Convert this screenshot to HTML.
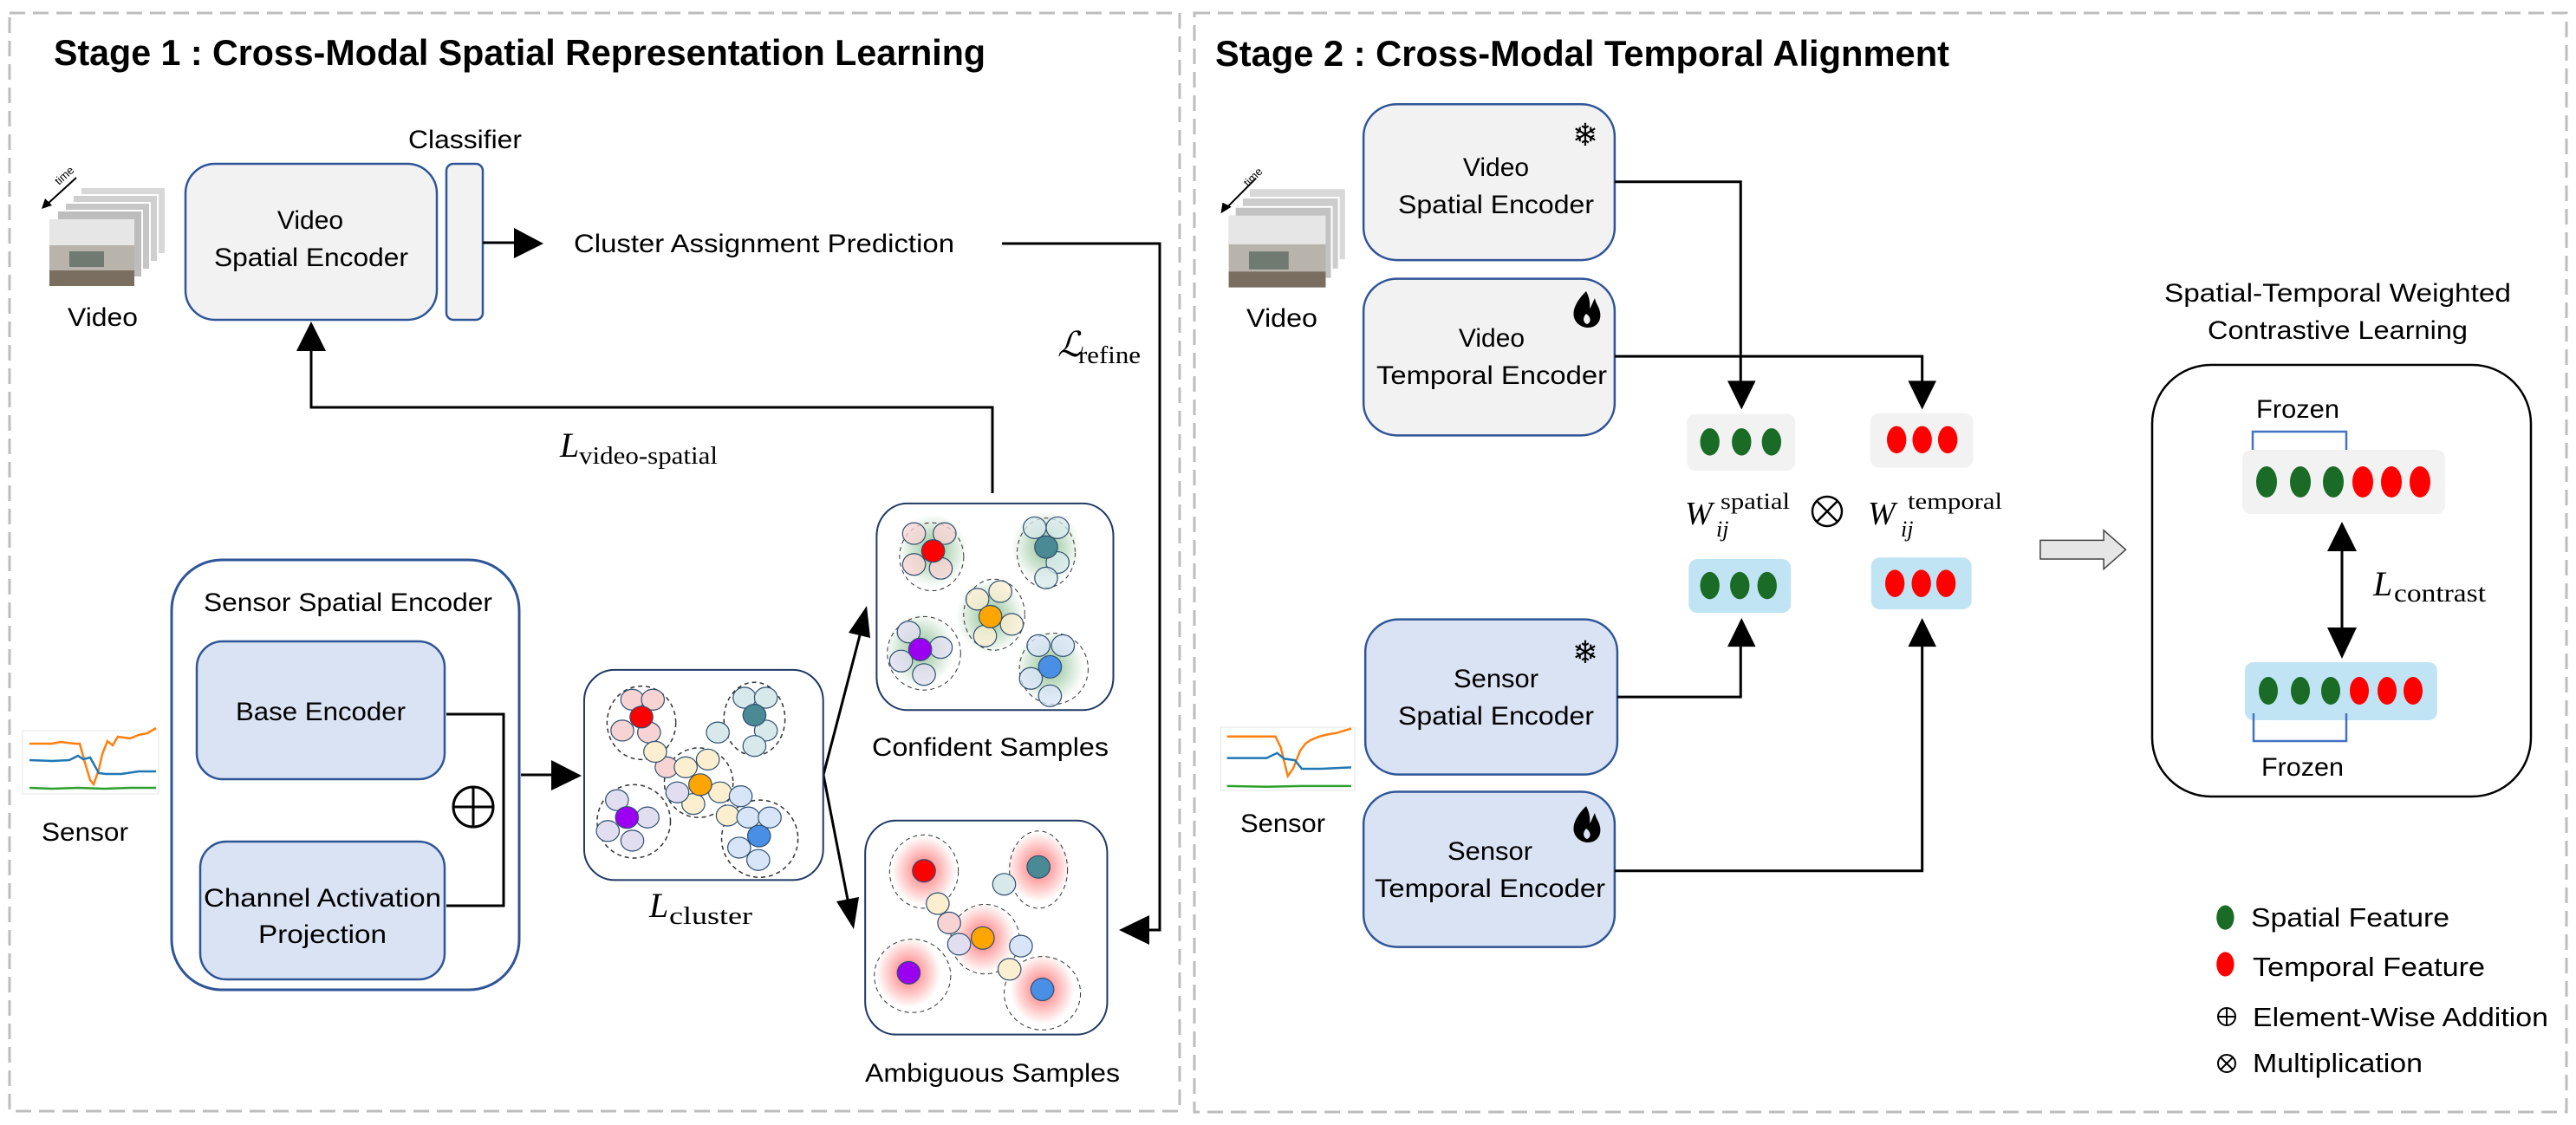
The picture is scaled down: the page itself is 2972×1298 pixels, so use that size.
<!DOCTYPE html>
<html><head><meta charset="utf-8"><style>
html,body{margin:0;padding:0;background:#fff;}
svg{display:block;}
.t{font-family:"Liberation Sans",sans-serif;fill:#000;}
.m{font-family:"Liberation Serif",serif;fill:#000;}
</style></head><body>
<svg width="2972" height="1298" viewBox="0 0 2972 1298" xmlns="http://www.w3.org/2000/svg">
<defs>
<radialGradient id="gg"><stop offset="0" stop-color="#2e8b3a" stop-opacity="0.55"/><stop offset="1" stop-color="#2e8b3a" stop-opacity="0"/></radialGradient>
<radialGradient id="rg"><stop offset="0" stop-color="#ff2020" stop-opacity="0.65"/><stop offset="1" stop-color="#ff2020" stop-opacity="0"/></radialGradient>
</defs>
<rect x="11" y="15" width="1350" height="1267" fill="none" stroke="#bdbdbd" stroke-width="3" stroke-dasharray="18,9"/>
<rect x="1378" y="15" width="1583" height="1268" fill="none" stroke="#bdbdbd" stroke-width="3" stroke-dasharray="18,9"/>

<text class="t" x="62" y="75" font-size="42" font-weight="bold" textLength="1075" lengthAdjust="spacingAndGlyphs">Stage 1 : Cross-Modal Spatial Representation Learning</text>
<text class="t" x="1402" y="76" font-size="42" font-weight="bold" textLength="847" lengthAdjust="spacingAndGlyphs">Stage 2 : Cross-Modal Temporal Alignment</text>

<g>
<rect x="93" y="216" width="98" height="77" fill="#d8d8d8" stroke="#fff" stroke-width="2"/>
<rect x="84" y="225" width="98" height="77" fill="#cfcfcf" stroke="#fff" stroke-width="2"/>
<rect x="75" y="234" width="98" height="77" fill="#c6c6c6" stroke="#fff" stroke-width="2"/>
<rect x="66" y="243" width="98" height="77" fill="#bdbdbd" stroke="#fff" stroke-width="2"/>
<rect x="57" y="253" width="98" height="77" fill="#b8b4ac"/>
<rect x="57" y="253" width="98" height="30" fill="#e6e6e6"/>
<rect x="80" y="290" width="40" height="18" fill="#6f7a70"/>
<rect x="57" y="312" width="98" height="18" fill="#7a6e60"/>
<line x1="88" y1="205" x2="54" y2="236" stroke="#000" stroke-width="2"/>
<polygon points="48,241 52,229 60,237" fill="#000"/>
<text class="t" x="68" y="214" font-size="13" transform="rotate(-42 68 214)">time</text>
<text class="t" x="78" y="376" font-size="30" textLength="81" lengthAdjust="spacingAndGlyphs">Video</text>

<rect x="214" y="189" width="290" height="180" rx="34" fill="#f2f2f2" stroke="#2f5597" stroke-width="2.5"/>
<text class="t" x="358" y="264" font-size="30" text-anchor="middle">Video</text>
<text class="t" x="359" y="307" font-size="30" text-anchor="middle" textLength="224" lengthAdjust="spacingAndGlyphs">Spatial Encoder</text>
<rect x="515" y="189" width="42" height="180" rx="8" fill="#f2f2f2" stroke="#2f5597" stroke-width="2.5"/>
<text class="t" x="471" y="171" font-size="30" textLength="131" lengthAdjust="spacingAndGlyphs">Classifier</text>
<line x1="557" y1="280" x2="595" y2="280" stroke="#000" stroke-width="3"/>
<polygon points="593,263 627,281 593,298" fill="#000"/>
<text class="t" x="662" y="291" font-size="30" textLength="439" lengthAdjust="spacingAndGlyphs">Cluster Assignment Prediction</text>

<path d="M1156,281 H1338 V1073 H1320" fill="none" stroke="#000" stroke-width="3"/>
<polygon points="1291,1073 1326,1056 1326,1090" fill="#000"/>
<text class="m" x="1220" y="411" font-size="40" font-style="italic">ℒ</text>
<text class="m" x="1244" y="419" font-size="28" textLength="72" lengthAdjust="spacingAndGlyphs">refine</text>

<path d="M1145,569 V470 H359 V400" fill="none" stroke="#000" stroke-width="3"/>
<polygon points="342,405 376,405 359,371" fill="#000"/>
<text class="m" x="646" y="527" font-size="40" font-style="italic">L</text>
<text class="m" x="668" y="535" font-size="28" textLength="160" lengthAdjust="spacingAndGlyphs">video-spatial</text>
</g>

<g>
<rect x="26" y="843" width="157" height="73" fill="#fff" stroke="#e4e4e4"/>
<polyline points="34,858 60,858 70,856 86,858 92,858 98,880 104,900 108,905 114,888 118,870 124,855 130,860 136,850 150,852 160,848 170,846 180,840" fill="none" stroke="#ff7f0e" stroke-width="2.5"/>
<polyline points="34,877 60,878 80,877 90,872 96,876 104,874 114,892 122,893 140,893 160,890 180,890" fill="none" stroke="#1f77b4" stroke-width="2.5"/>
<polyline points="34,909 60,910 90,909 120,910 150,909 180,909" fill="none" stroke="#2ca02c" stroke-width="2.5"/>
</g>
<text class="t" x="48" y="970" font-size="30" textLength="100" lengthAdjust="spacingAndGlyphs">Sensor</text>

<rect x="198" y="646" width="401" height="496" rx="58" fill="#fff" stroke="#2f5597" stroke-width="3"/>
<text class="t" x="235" y="705" font-size="30" textLength="333" lengthAdjust="spacingAndGlyphs">Sensor Spatial Encoder</text>
<rect x="227" y="740" width="286" height="159" rx="30" fill="#dae3f3" stroke="#2f5597" stroke-width="2.5"/>
<text class="t" x="370" y="831" font-size="30" text-anchor="middle" textLength="196" lengthAdjust="spacingAndGlyphs">Base Encoder</text>
<rect x="231" y="971" width="282" height="159" rx="30" fill="#dae3f3" stroke="#2f5597" stroke-width="2.5"/>
<text class="t" x="372" y="1046" font-size="30" text-anchor="middle" textLength="274" lengthAdjust="spacingAndGlyphs">Channel Activation</text>
<text class="t" x="372" y="1088" font-size="30" text-anchor="middle" textLength="148" lengthAdjust="spacingAndGlyphs">Projection</text>
<path d="M515,824 H581 V1045 H515" fill="none" stroke="#000" stroke-width="3"/>
<circle cx="546" cy="931" r="23" fill="#fff" stroke="#000" stroke-width="3"/>
<line x1="523" y1="931" x2="569" y2="931" stroke="#000" stroke-width="3"/>
<line x1="546" y1="908" x2="546" y2="954" stroke="#000" stroke-width="3"/>
<line x1="601" y1="894" x2="640" y2="894" stroke="#000" stroke-width="3"/>
<polygon points="636,877 671,895 636,912" fill="#000"/>

<line x1="950" y1="894" x2="992" y2="733" stroke="#000" stroke-width="3"/>
<polygon points="1000,699 1004,736 979,730" fill="#000"/>
<line x1="950" y1="894" x2="978" y2="1038" stroke="#000" stroke-width="3"/>
<polygon points="985,1072 991,1035 965,1040" fill="#000"/>

<text class="m" x="749" y="1058" font-size="40" font-style="italic">L</text>
<text class="m" x="772" y="1066" font-size="28" textLength="96" lengthAdjust="spacingAndGlyphs">cluster</text>
<text class="t" x="1006" y="872" font-size="30" textLength="273" lengthAdjust="spacingAndGlyphs">Confident Samples</text>
<text class="t" x="998" y="1248" font-size="30" textLength="294" lengthAdjust="spacingAndGlyphs">Ambiguous Samples</text>

<g transform="translate(0,600) scale(0.881,0.4457)">
<rect x="765" y="388" width="313" height="544" rx="40" ry="80" fill="#fff" stroke="#1f3864" stroke-width="2" vector-effect="non-scaling-stroke"/>
<rect x="1148" y="-43" width="310" height="535" rx="40" ry="85" fill="#fff" stroke="#1f3864" stroke-width="2" vector-effect="non-scaling-stroke"/>
<rect x="1133" y="778" width="317" height="554" rx="40" ry="85" fill="#fff" stroke="#1f3864" stroke-width="2" vector-effect="non-scaling-stroke"/>
<g fill="none" stroke="#333" stroke-dasharray="5,4">
<ellipse cx="840" cy="525" rx="45" ry="95" stroke-width="1.5" vector-effect="non-scaling-stroke"/>
<ellipse cx="988" cy="515" rx="40" ry="95" stroke-width="1.5" vector-effect="non-scaling-stroke"/>
<ellipse cx="915" cy="680" rx="45" ry="90" stroke-width="1.5" vector-effect="non-scaling-stroke"/>
<ellipse cx="830" cy="780" rx="48" ry="95" stroke-width="1.5" vector-effect="non-scaling-stroke"/>
<ellipse cx="995" cy="825" rx="50" ry="100" stroke-width="1.5" vector-effect="non-scaling-stroke"/>
</g>
<g stroke="#2f4f6f" stroke-width="1.2">
<g fill="#f8d3d3"><ellipse cx="828" cy="465" rx="15" ry="27" vector-effect="non-scaling-stroke"/><ellipse cx="855" cy="465" rx="15" ry="27" vector-effect="non-scaling-stroke"/><ellipse cx="815" cy="545" rx="15" ry="27" vector-effect="non-scaling-stroke"/><ellipse cx="850" cy="550" rx="15" ry="27" vector-effect="non-scaling-stroke"/><ellipse cx="873" cy="640" rx="15" ry="27" vector-effect="non-scaling-stroke"/></g>
<g fill="#fbefd0"><ellipse cx="858" cy="600" rx="15" ry="27" vector-effect="non-scaling-stroke"/><ellipse cx="898" cy="640" rx="15" ry="27" vector-effect="non-scaling-stroke"/><ellipse cx="927" cy="620" rx="15" ry="27" vector-effect="non-scaling-stroke"/><ellipse cx="943" cy="705" rx="15" ry="27" vector-effect="non-scaling-stroke"/><ellipse cx="908" cy="735" rx="15" ry="27" vector-effect="non-scaling-stroke"/><ellipse cx="953" cy="765" rx="15" ry="27" vector-effect="non-scaling-stroke"/></g>
<g fill="#d8e9ec"><ellipse cx="975" cy="460" rx="15" ry="27" vector-effect="non-scaling-stroke"/><ellipse cx="1003" cy="460" rx="15" ry="27" vector-effect="non-scaling-stroke"/><ellipse cx="1003" cy="545" rx="15" ry="27" vector-effect="non-scaling-stroke"/><ellipse cx="988" cy="585" rx="15" ry="27" vector-effect="non-scaling-stroke"/><ellipse cx="940" cy="550" rx="15" ry="27" vector-effect="non-scaling-stroke"/></g>
<g fill="#e2def2"><ellipse cx="808" cy="725" rx="15" ry="27" vector-effect="non-scaling-stroke"/><ellipse cx="848" cy="770" rx="15" ry="27" vector-effect="non-scaling-stroke"/><ellipse cx="796" cy="805" rx="15" ry="27" vector-effect="non-scaling-stroke"/><ellipse cx="828" cy="830" rx="15" ry="27" vector-effect="non-scaling-stroke"/><ellipse cx="887" cy="705" rx="15" ry="27" vector-effect="non-scaling-stroke"/></g>
<g fill="#d8e4f8"><ellipse cx="970" cy="715" rx="15" ry="27" vector-effect="non-scaling-stroke"/><ellipse cx="980" cy="770" rx="15" ry="27" vector-effect="non-scaling-stroke"/><ellipse cx="1008" cy="770" rx="15" ry="27" vector-effect="non-scaling-stroke"/><ellipse cx="968" cy="848" rx="15" ry="27" vector-effect="non-scaling-stroke"/><ellipse cx="993" cy="880" rx="15" ry="27" vector-effect="non-scaling-stroke"/></g>
<ellipse cx="840" cy="510" rx="15" ry="28" fill="#ff0000" vector-effect="non-scaling-stroke"/>
<ellipse cx="988" cy="505" rx="15" ry="28" fill="#4a8a94" vector-effect="non-scaling-stroke"/>
<ellipse cx="917" cy="685" rx="15" ry="28" fill="#ffa500" vector-effect="non-scaling-stroke"/>
<ellipse cx="821" cy="770" rx="15" ry="28" fill="#9b00f0" vector-effect="non-scaling-stroke"/>
<ellipse cx="994" cy="818" rx="15" ry="28" fill="#4a8fe6" vector-effect="non-scaling-stroke"/>
</g>

<g fill="url(#gg)">
<ellipse cx="1222" cy="80" rx="45" ry="95"/><ellipse cx="1370" cy="70" rx="45" ry="95"/><ellipse cx="1297" cy="250" rx="45" ry="95"/><ellipse cx="1205" cy="335" rx="45" ry="95"/><ellipse cx="1375" cy="380" rx="45" ry="95"/>
</g>
<g fill="none" stroke="#333" stroke-dasharray="5,4">
<ellipse cx="1220" cy="95" rx="42" ry="88" vector-effect="non-scaling-stroke"/>
<ellipse cx="1370" cy="85" rx="38" ry="90" vector-effect="non-scaling-stroke"/>
<ellipse cx="1302" cy="245" rx="40" ry="92" vector-effect="non-scaling-stroke"/>
<ellipse cx="1210" cy="345" rx="48" ry="95" vector-effect="non-scaling-stroke"/>
<ellipse cx="1380" cy="385" rx="45" ry="92" vector-effect="non-scaling-stroke"/>
</g>
<g stroke="#2f4f6f" stroke-width="1.2" fill-opacity="0.75">
<g fill="#f8d3d3"><ellipse cx="1197" cy="35" rx="15" ry="28" vector-effect="non-scaling-stroke"/><ellipse cx="1237" cy="35" rx="15" ry="28" vector-effect="non-scaling-stroke"/><ellipse cx="1197" cy="115" rx="15" ry="28" vector-effect="non-scaling-stroke"/><ellipse cx="1232" cy="125" rx="15" ry="28" vector-effect="non-scaling-stroke"/></g>
<g fill="#d8e9ec"><ellipse cx="1355" cy="20" rx="15" ry="28" vector-effect="non-scaling-stroke"/><ellipse cx="1385" cy="20" rx="15" ry="28" vector-effect="non-scaling-stroke"/><ellipse cx="1385" cy="110" rx="15" ry="28" vector-effect="non-scaling-stroke"/><ellipse cx="1370" cy="150" rx="15" ry="28" vector-effect="non-scaling-stroke"/></g>
<g fill="#fbefd0"><ellipse cx="1280" cy="205" rx="15" ry="28" vector-effect="non-scaling-stroke"/><ellipse cx="1310" cy="185" rx="15" ry="28" vector-effect="non-scaling-stroke"/><ellipse cx="1325" cy="270" rx="15" ry="28" vector-effect="non-scaling-stroke"/><ellipse cx="1290" cy="300" rx="15" ry="28" vector-effect="non-scaling-stroke"/></g>
<g fill="#e2def2"><ellipse cx="1190" cy="290" rx="15" ry="28" vector-effect="non-scaling-stroke"/><ellipse cx="1232" cy="330" rx="15" ry="28" vector-effect="non-scaling-stroke"/><ellipse cx="1180" cy="365" rx="15" ry="28" vector-effect="non-scaling-stroke"/><ellipse cx="1210" cy="400" rx="15" ry="28" vector-effect="non-scaling-stroke"/></g>
<g fill="#d8e4f8"><ellipse cx="1360" cy="325" rx="15" ry="28" vector-effect="non-scaling-stroke"/><ellipse cx="1392" cy="325" rx="15" ry="28" vector-effect="non-scaling-stroke"/><ellipse cx="1350" cy="410" rx="15" ry="28" vector-effect="non-scaling-stroke"/><ellipse cx="1375" cy="455" rx="15" ry="28" vector-effect="non-scaling-stroke"/></g>
</g>
<g stroke="#2f4f6f" stroke-width="1.2">
<ellipse cx="1222" cy="80" rx="15" ry="29" fill="#ff0000" vector-effect="non-scaling-stroke"/>
<ellipse cx="1370" cy="70" rx="15" ry="29" fill="#4a8a94" vector-effect="non-scaling-stroke"/>
<ellipse cx="1297" cy="250" rx="15" ry="29" fill="#ffa500" vector-effect="non-scaling-stroke"/>
<ellipse cx="1205" cy="335" rx="15" ry="29" fill="#9b00f0" vector-effect="non-scaling-stroke"/>
<ellipse cx="1375" cy="380" rx="15" ry="29" fill="#4a8fe6" vector-effect="non-scaling-stroke"/>
</g>

<g fill="url(#rg)">
<ellipse cx="1210" cy="908" rx="42" ry="90"/><ellipse cx="1360" cy="898" rx="42" ry="90"/><ellipse cx="1287" cy="1082" rx="42" ry="90"/><ellipse cx="1190" cy="1172" rx="42" ry="90"/><ellipse cx="1365" cy="1215" rx="42" ry="90"/>
</g>
<g fill="none" stroke="#333" stroke-dasharray="5,4">
<ellipse cx="1210" cy="910" rx="45" ry="95" vector-effect="non-scaling-stroke"/>
<ellipse cx="1360" cy="905" rx="38" ry="100" vector-effect="non-scaling-stroke"/>
<ellipse cx="1290" cy="1085" rx="45" ry="90" vector-effect="non-scaling-stroke"/>
<ellipse cx="1195" cy="1180" rx="50" ry="95" vector-effect="non-scaling-stroke"/>
<ellipse cx="1365" cy="1225" rx="50" ry="95" vector-effect="non-scaling-stroke"/>
</g>
<g stroke="#2f4f6f" stroke-width="1.2">
<ellipse cx="1315" cy="943" rx="15" ry="28" fill="#d8e9ec" vector-effect="non-scaling-stroke"/>
<ellipse cx="1228" cy="993" rx="15" ry="28" fill="#fbefd0" vector-effect="non-scaling-stroke"/>
<ellipse cx="1243" cy="1043" rx="15" ry="28" fill="#f8d3d3" vector-effect="non-scaling-stroke"/>
<ellipse cx="1256" cy="1098" rx="15" ry="28" fill="#e2def2" vector-effect="non-scaling-stroke"/>
<ellipse cx="1337" cy="1103" rx="15" ry="28" fill="#d8e4f8" vector-effect="non-scaling-stroke"/>
<ellipse cx="1322" cy="1163" rx="15" ry="28" fill="#fbefd0" vector-effect="non-scaling-stroke"/>
<ellipse cx="1210" cy="908" rx="15" ry="29" fill="#ff0000" vector-effect="non-scaling-stroke"/>
<ellipse cx="1360" cy="898" rx="15" ry="29" fill="#4a8a94" vector-effect="non-scaling-stroke"/>
<ellipse cx="1287" cy="1082" rx="15" ry="29" fill="#ffa500" vector-effect="non-scaling-stroke"/>
<ellipse cx="1190" cy="1172" rx="15" ry="29" fill="#9b00f0" vector-effect="non-scaling-stroke"/>
<ellipse cx="1365" cy="1215" rx="15" ry="29" fill="#4a8fe6" vector-effect="non-scaling-stroke"/>
</g>
</g>

<g transform="translate(1380,0) scale(1.0166,0.829)">
<g stroke="#2f5597" stroke-width="2.5">
<rect x="190" y="145" width="285" height="217" rx="38" ry="45" fill="#f2f2f2" vector-effect="non-scaling-stroke"/>
<rect x="190" y="388" width="285" height="218" rx="38" ry="45" fill="#f2f2f2" vector-effect="non-scaling-stroke"/>
<rect x="192" y="862" width="286" height="216" rx="38" ry="45" fill="#dae3f3" vector-effect="non-scaling-stroke"/>
<rect x="190" y="1102" width="285" height="216" rx="38" ry="45" fill="#dae3f3" vector-effect="non-scaling-stroke"/>
</g>
<g fill="none" stroke="#000" stroke-width="3">
<path d="M475,253 H618 V535" vector-effect="non-scaling-stroke"/>
<path d="M475,496 H824 V535" vector-effect="non-scaling-stroke"/>
<path d="M478,970 H618 V895" vector-effect="non-scaling-stroke"/>
<path d="M475,1212 H824 V895" vector-effect="non-scaling-stroke"/>
</g>
<g fill="#000">
<polygon points="603,530 635,530 619,570"/><polygon points="808,530 840,530 824,570"/>
<polygon points="603,900 635,900 619,860"/><polygon points="808,900 840,900 824,860"/>
</g>
<rect x="557" y="576" width="123" height="79" rx="10" ry="12" fill="#f2f2f2"/>
<rect x="765" y="575" width="117" height="76" rx="10" ry="12" fill="#f2f2f2"/>
<rect x="559" y="778" width="116" height="75" rx="10" ry="12" fill="#c0e4f4"/>
<rect x="766" y="776" width="114" height="72" rx="10" ry="12" fill="#c0e4f4"/>
<g fill="#1a6b25">
<ellipse cx="583" cy="615" rx="11" ry="19"/><ellipse cx="619" cy="615" rx="11" ry="19"/><ellipse cx="653" cy="615" rx="11" ry="19"/>
<ellipse cx="583" cy="815" rx="11" ry="19"/><ellipse cx="617" cy="815" rx="11" ry="19"/><ellipse cx="648" cy="815" rx="11" ry="19"/>
</g>
<g fill="#ff0000">
<ellipse cx="795" cy="612" rx="11" ry="19"/><ellipse cx="824" cy="612" rx="11" ry="19"/><ellipse cx="853" cy="612" rx="11" ry="19"/>
<ellipse cx="793" cy="812" rx="11" ry="19"/><ellipse cx="823" cy="812" rx="11" ry="19"/><ellipse cx="851" cy="812" rx="11" ry="19"/>
</g>
<polygon points="958,752 1030,752 1030,738 1055,765 1030,792 1030,778 958,778" fill="#e6e6e6" stroke="#444" stroke-width="1.5" vector-effect="non-scaling-stroke"/>
<ellipse cx="1168" cy="1277" rx="10" ry="17" fill="#1a6b25"/>
<ellipse cx="1168" cy="1342" rx="10" ry="17" fill="#ff0000"/>
<rect x="60" y="262" width="110" height="100" fill="#d8d8d8" stroke="#fff" stroke-width="2" vector-effect="non-scaling-stroke"/>
<rect x="52" y="275" width="110" height="100" fill="#cccccc" stroke="#fff" stroke-width="2" vector-effect="non-scaling-stroke"/>
<rect x="44" y="288" width="110" height="100" fill="#c2c2c2" stroke="#fff" stroke-width="2" vector-effect="non-scaling-stroke"/>
<rect x="37" y="300" width="110" height="100" fill="#b8b4ac"/>
<rect x="37" y="300" width="110" height="40" fill="#e6e6e6"/>
<rect x="60" y="350" width="45" height="25" fill="#6f7a70"/>
<rect x="37" y="378" width="110" height="22" fill="#7a6e60"/>
<line x1="68" y1="248" x2="34" y2="290" stroke="#000" stroke-width="2" vector-effect="non-scaling-stroke"/>
<polygon points="28,297 30,282 40,288" fill="#000"/>
<rect x="28" y="1012" width="152" height="88" fill="#fff" stroke="#e4e4e4" vector-effect="non-scaling-stroke"/>
<polyline points="35,1025 90,1025 96,1040 104,1080 110,1070 118,1045 124,1035 130,1030 140,1025 150,1022 160,1020 176,1014" fill="none" stroke="#ff7f0e" stroke-width="2.5" vector-effect="non-scaling-stroke"/>
<polyline points="35,1055 80,1055 92,1048 100,1056 112,1058 120,1070 140,1070 176,1068" fill="none" stroke="#1f77b4" stroke-width="2.5" vector-effect="non-scaling-stroke"/>
<polyline points="35,1094 80,1095 120,1094 176,1094" fill="none" stroke="#2ca02c" stroke-width="2.5" vector-effect="non-scaling-stroke"/>
</g>

<text class="t" x="1440" y="216" font-size="13" transform="rotate(-45 1440 216)">time</text>
<text class="t" x="1479" y="377" font-size="30" text-anchor="middle" textLength="82" lengthAdjust="spacingAndGlyphs">Video</text>
<text class="t" x="1480" y="960" font-size="30" text-anchor="middle" textLength="98" lengthAdjust="spacingAndGlyphs">Sensor</text>

<text class="t" x="1726" y="203" font-size="30" text-anchor="middle">Video</text>
<text class="t" x="1726" y="246" font-size="30" text-anchor="middle" textLength="226" lengthAdjust="spacingAndGlyphs">Spatial Encoder</text>
<text class="t" x="1721" y="400" font-size="30" text-anchor="middle">Video</text>
<text class="t" x="1721" y="443" font-size="30" text-anchor="middle" textLength="266" lengthAdjust="spacingAndGlyphs">Temporal Encoder</text>
<text class="t" x="1726" y="793" font-size="30" text-anchor="middle" textLength="98" lengthAdjust="spacingAndGlyphs">Sensor</text>
<text class="t" x="1726" y="836" font-size="30" text-anchor="middle" textLength="226" lengthAdjust="spacingAndGlyphs">Spatial Encoder</text>
<text class="t" x="1719" y="992" font-size="30" text-anchor="middle" textLength="98" lengthAdjust="spacingAndGlyphs">Sensor</text>
<text class="t" x="1719" y="1035" font-size="30" text-anchor="middle" textLength="266" lengthAdjust="spacingAndGlyphs">Temporal Encoder</text>

<g font-family="DejaVu Sans, sans-serif" font-size="36" text-anchor="middle" fill="#000">
<text x="1829" y="168">❄</text>
<text x="1829" y="765">❄</text>
</g>
<g fill="#000">
<path d="M1830,336 C1818,348 1814,358 1816,366 C1818,374 1826,378 1832,378 C1842,378 1848,370 1846,360 C1845,354 1841,350 1840,344 C1837,350 1836,354 1834,356 C1835,348 1833,342 1830,336 Z M1830,362 C1826,366 1826,372 1831,374 C1836,372 1836,366 1830,362 Z" fill-rule="evenodd"/>
<path d="M1830,930 C1818,942 1814,952 1816,960 C1818,968 1826,972 1832,972 C1842,972 1848,964 1846,954 C1845,948 1841,944 1840,938 C1837,944 1836,948 1834,950 C1835,942 1833,936 1830,930 Z M1830,956 C1826,960 1826,966 1831,968 C1836,966 1836,960 1830,956 Z" fill-rule="evenodd"/>
</g>

<text class="m" x="1944" y="605" font-size="38" font-style="italic">W</text>
<text class="m" x="1985" y="587" font-size="26" textLength="80" lengthAdjust="spacingAndGlyphs">spatial</text>
<text class="m" x="1980" y="619" font-size="26" font-style="italic">ij</text>
<circle cx="2108" cy="590" r="17" fill="none" stroke="#000" stroke-width="2.5"/>
<line x1="2096" y1="578" x2="2120" y2="602" stroke="#000" stroke-width="2.5"/>
<line x1="2120" y1="578" x2="2096" y2="602" stroke="#000" stroke-width="2.5"/>
<text class="m" x="2155" y="605" font-size="38" font-style="italic">W</text>
<text class="m" x="2201" y="587" font-size="26" textLength="109" lengthAdjust="spacingAndGlyphs">temporal</text>
<text class="m" x="2193" y="619" font-size="26" font-style="italic">ij</text>

<text class="t" x="2697" y="348" font-size="30" text-anchor="middle" textLength="400" lengthAdjust="spacingAndGlyphs">Spatial-Temporal Weighted</text>
<text class="t" x="2697" y="391" font-size="30" text-anchor="middle" textLength="300" lengthAdjust="spacingAndGlyphs">Contrastive Learning</text>
<rect x="2483" y="421" width="437" height="498" rx="68" fill="#fff" stroke="#000" stroke-width="2.5"/>
<text class="t" x="2603" y="482" font-size="30" textLength="96" lengthAdjust="spacingAndGlyphs">Frozen</text>
<path d="M2599,531 V498 H2707 V531" fill="none" stroke="#4472c4" stroke-width="2.5"/>
<rect x="2587" y="519" width="234" height="74" rx="10" fill="#f2f2f2"/>
<g fill="#1a6b25"><ellipse cx="2615" cy="556" rx="12" ry="18"/><ellipse cx="2654" cy="556" rx="12" ry="18"/><ellipse cx="2692" cy="556" rx="12" ry="18"/></g>
<g fill="#ff0000"><ellipse cx="2726" cy="556" rx="12" ry="18"/><ellipse cx="2759" cy="556" rx="12" ry="18"/><ellipse cx="2792" cy="556" rx="12" ry="18"/></g>
<line x1="2702" y1="630" x2="2702" y2="730" stroke="#000" stroke-width="3"/>
<polygon points="2702,602 2685,636 2719,636" fill="#000"/>
<polygon points="2702,760 2685,724 2719,724" fill="#000"/>
<text class="m" x="2738" y="687" font-size="40" font-style="italic">L</text>
<text class="m" x="2762" y="694" font-size="30" textLength="106" lengthAdjust="spacingAndGlyphs">contrast</text>
<rect x="2590" y="764" width="222" height="67" rx="10" fill="#c0e4f4"/>
<g fill="#1a6b25"><ellipse cx="2617" cy="797" rx="11" ry="16"/><ellipse cx="2654" cy="797" rx="11" ry="16"/><ellipse cx="2689" cy="797" rx="11" ry="16"/></g>
<g fill="#ff0000"><ellipse cx="2722" cy="797" rx="11" ry="16"/><ellipse cx="2754" cy="797" rx="11" ry="16"/><ellipse cx="2784" cy="797" rx="11" ry="16"/></g>
<path d="M2600,823 V855 H2707 V823" fill="none" stroke="#4472c4" stroke-width="2.5"/>
<text class="t" x="2609" y="895" font-size="30" textLength="95" lengthAdjust="spacingAndGlyphs">Frozen</text>

<text class="t" x="2597" y="1069" font-size="31" textLength="229" lengthAdjust="spacingAndGlyphs">Spatial Feature</text>
<text class="t" x="2599" y="1126" font-size="31" textLength="268" lengthAdjust="spacingAndGlyphs">Temporal Feature</text>
<circle cx="2569" cy="1173" r="10" fill="none" stroke="#000" stroke-width="2"/>
<line x1="2559" y1="1173" x2="2579" y2="1173" stroke="#000" stroke-width="2"/>
<line x1="2569" y1="1163" x2="2569" y2="1183" stroke="#000" stroke-width="2"/>
<text class="t" x="2599" y="1184" font-size="31" textLength="341" lengthAdjust="spacingAndGlyphs">Element-Wise Addition</text>
<circle cx="2569" cy="1227" r="10" fill="none" stroke="#000" stroke-width="2"/>
<line x1="2562" y1="1220" x2="2576" y2="1234" stroke="#000" stroke-width="2"/>
<line x1="2576" y1="1220" x2="2562" y2="1234" stroke="#000" stroke-width="2"/>
<text class="t" x="2599" y="1237" font-size="31" textLength="196" lengthAdjust="spacingAndGlyphs">Multiplication</text>
</svg>
</body></html>
